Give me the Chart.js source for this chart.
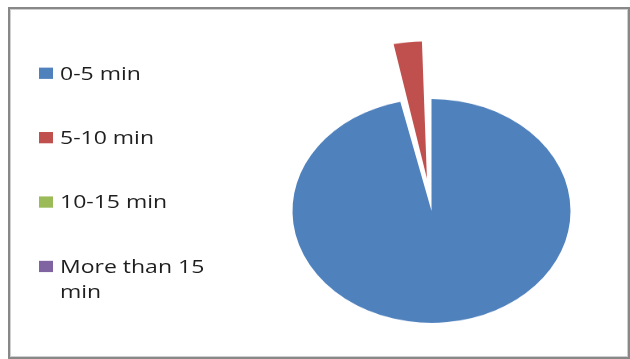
<!DOCTYPE html>
<html>
<head>
<meta charset="utf-8">
<script src="https://cdn.jsdelivr.net/npm/chart.js@4/dist/chart.umd.min.js"></script>
<style>
  html, body { margin: 0; padding: 0; background: #fff; }
  body { width: 630px; height: 359px; position: relative; overflow: hidden; }
  #frame { position: absolute; left: 8px; top: 7px; width: 618px; height: 348px;
           border: 2px solid #888; box-shadow: inset 0 0 0 1px #cfcfcf; }
  #stage { position: absolute; left: 0; top: 0; width: 630px; height: 446px;
           transform: scaleY(0.805); transform-origin: 0 0; }
  #chart { position: absolute; left: 0; top: 0; }
  .item { position: absolute; left: 39px; font-family: "Open Sans", sans-serif;
          font-size: 23px; line-height: 31px; color: #1e1e1e; }
  .box { position: absolute; left: 0; top: 9px; width: 14px; height: 14px; }
  .txt { position: absolute; left: 21px; top: 0; width: 165px; }
</style>
</head>
<body>
<div id="frame"></div>
<div id="stage">
  <canvas id="chart" width="630" height="446"></canvas>
  <div id="legend"></div>
</div>
<script>
const categories = ["0-5 min", "5-10 min", "10-15 min", "More than 15 min"];
const values = [96.4, 3.6, 0, 0];
const colors = ["#4F81BD", "#C0504D", "#9BBB59", "#8064A2"];
const explode = [0, 162, 0, 0];

const chart = new Chart(document.getElementById('chart'), {
  type: 'pie',
  data: {
    labels: categories,
    datasets: [{
      data: values,
      backgroundColor: colors,
      borderWidth: 0,
      offset: explode,
      radius: 139
    }]
  },
  options: {
    responsive: false,
    devicePixelRatio: 1,
    animation: false,
    events: [],
    layout: { padding: { left: 233, top: 78, right: 0, bottom: 0 } },
    plugins: { legend: { display: false }, tooltip: { enabled: false } }
  }
});

// HTML legend built from the chart's data
const legend = document.getElementById('legend');
chart.data.labels.forEach((lab, i) => {
  const item = document.createElement('div');
  item.className = 'item';
  item.style.top = (75 + i * 80) + 'px';
  const box = document.createElement('div');
  box.className = 'box';
  box.style.background = chart.data.datasets[0].backgroundColor[i];
  const t = document.createElement('div');
  t.className = 'txt';
  t.textContent = lab;
  item.appendChild(box);
  item.appendChild(t);
  legend.appendChild(item);
});
</script>
</body>
</html>
